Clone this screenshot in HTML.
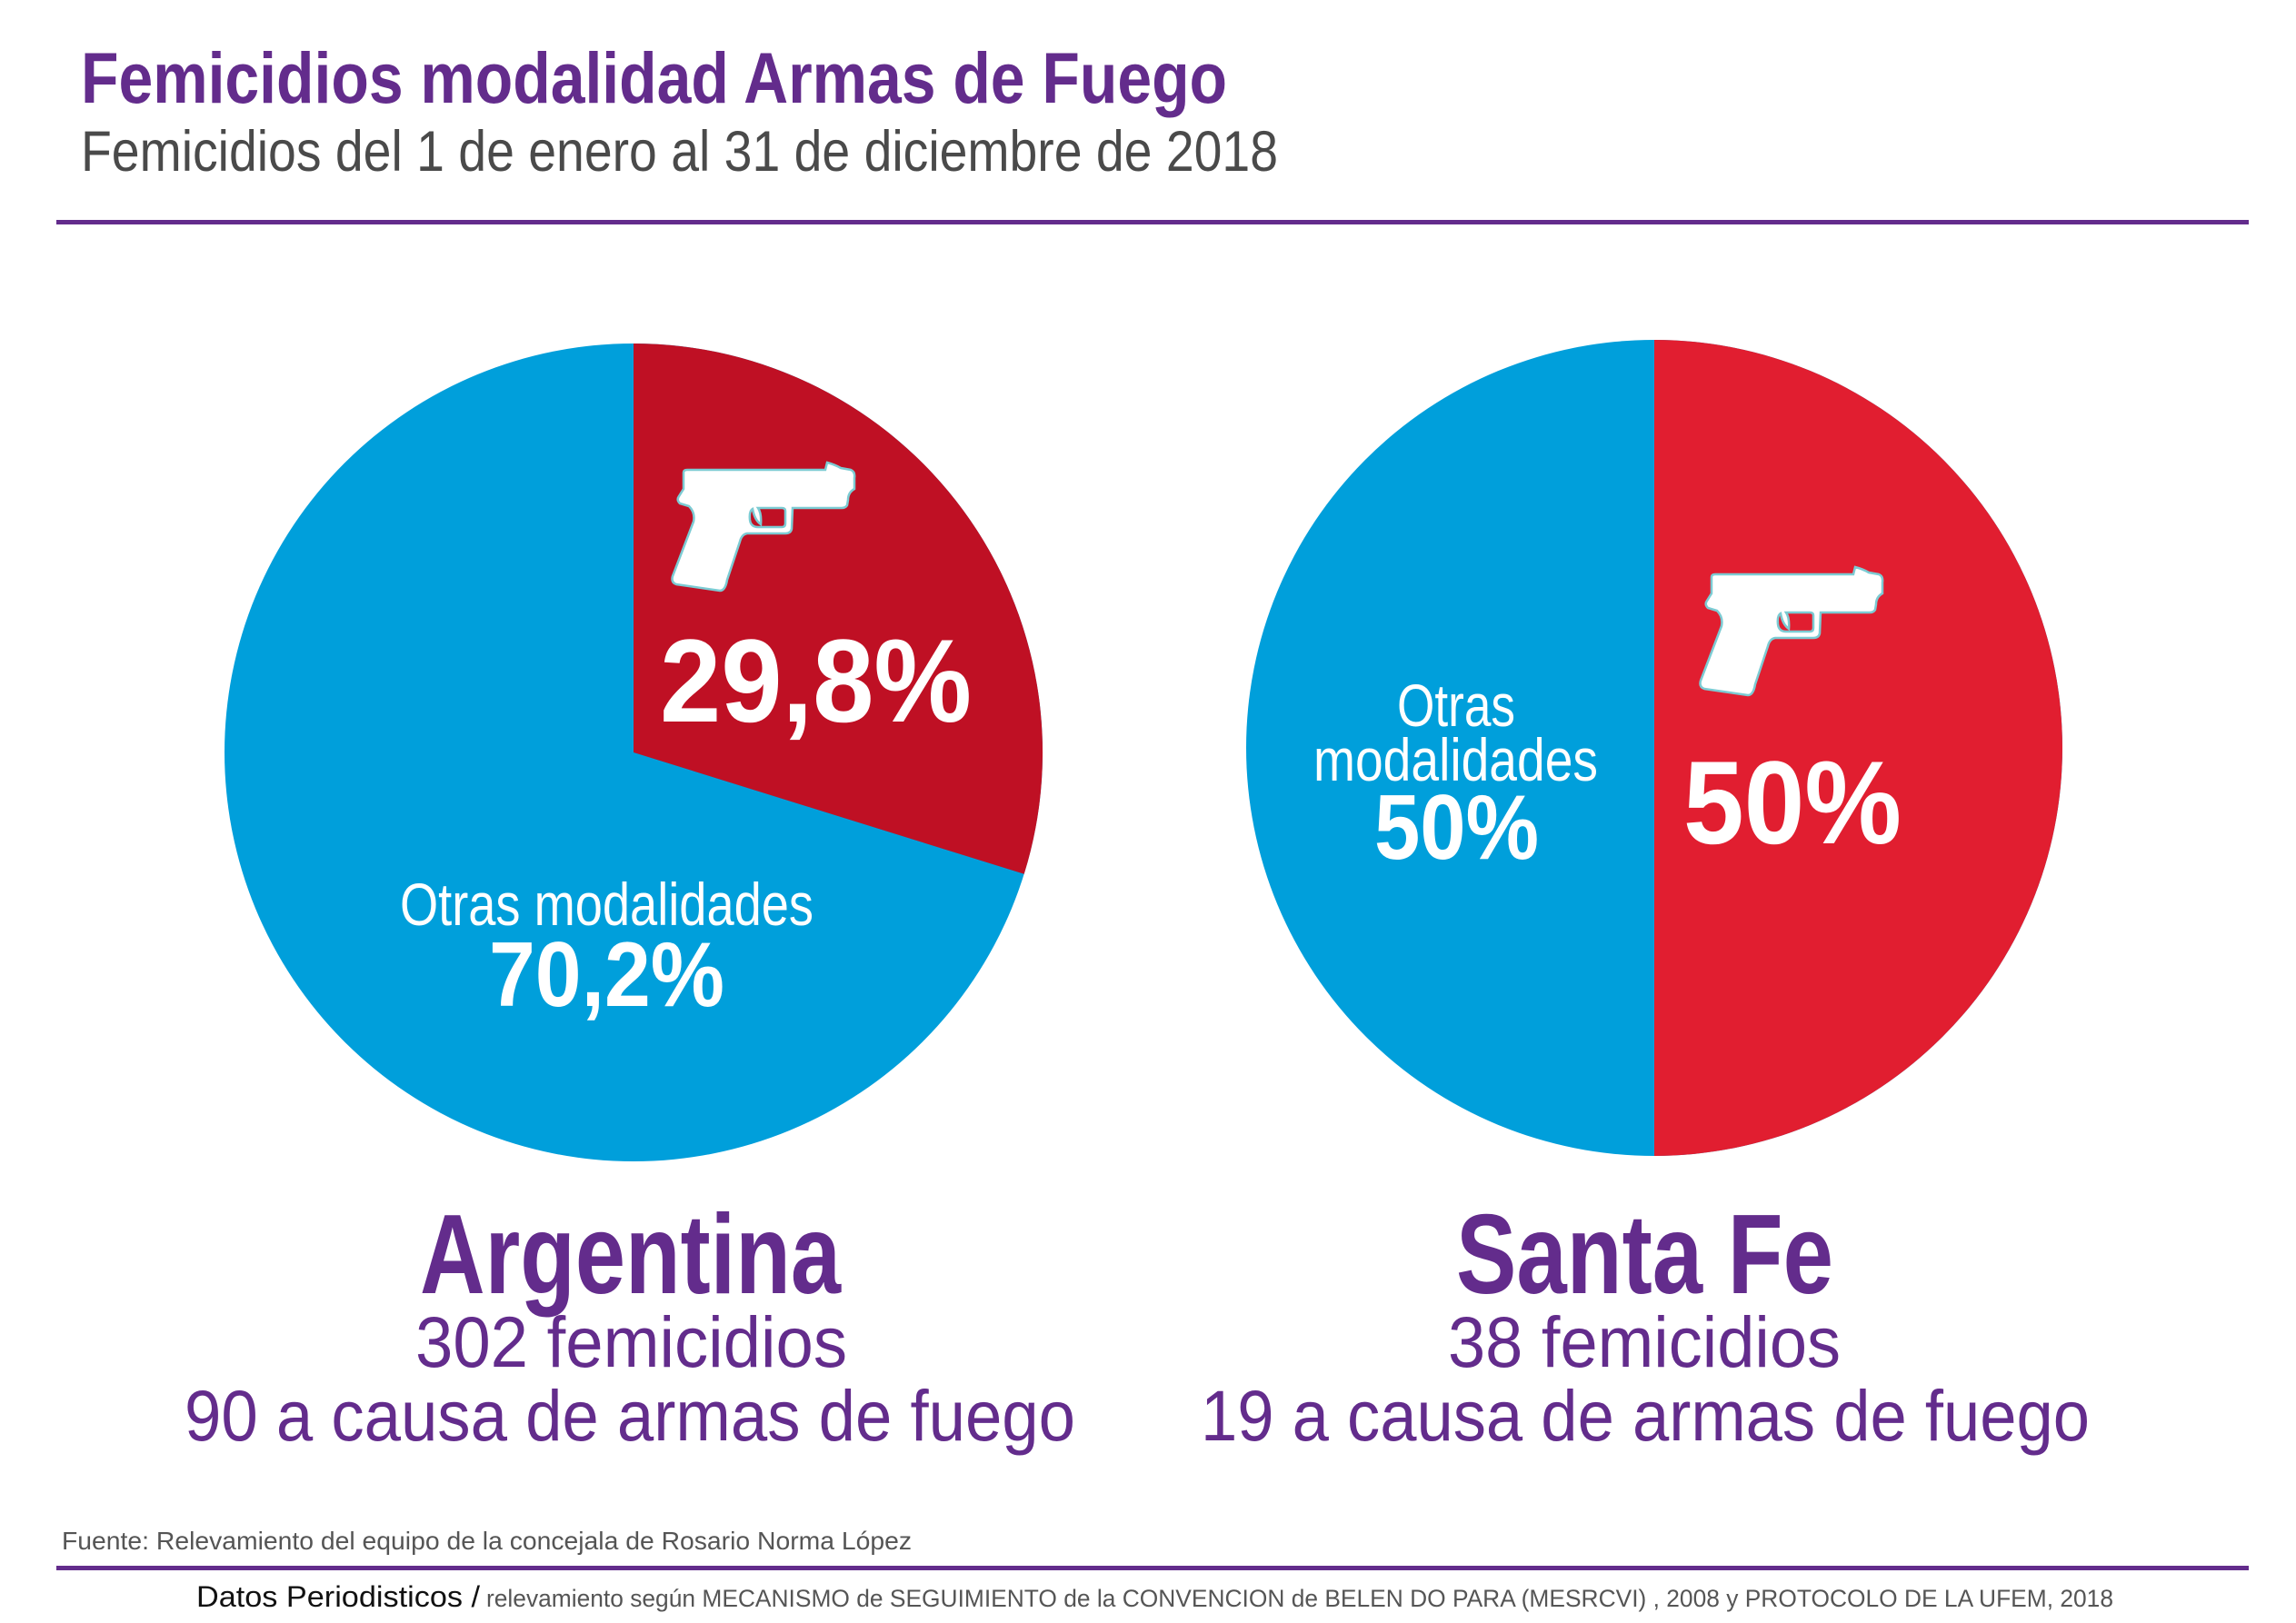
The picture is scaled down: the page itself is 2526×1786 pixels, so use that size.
<!DOCTYPE html>
<html><head><meta charset="utf-8"><style>html,body{margin:0;padding:0;background:#fff}svg{display:block}</style></head><body>
<svg width="2526" height="1786" viewBox="0 0 2526 1786" xmlns="http://www.w3.org/2000/svg" font-family="Liberation Sans, Arial, sans-serif">
<rect width="2526" height="1786" fill="#fff"/>
<text x="89" y="113" font-size="79" font-weight="bold" fill="#632c8c" textLength="1261" lengthAdjust="spacingAndGlyphs">Femicidios modalidad Armas de Fuego</text>
<text x="89" y="188" font-size="63" fill="#4a4a4a" textLength="1317" lengthAdjust="spacingAndGlyphs">Femicidios  del 1 de enero al 31 de diciembre de 2018</text>
<rect x="62" y="242" width="2412" height="5" fill="#632c8c"/>

<!-- Pie 1 -->
<circle cx="697" cy="828" r="450" fill="#009fdb"/>
<path d="M697,828 L697,378 A450,450 0 0 1 1126.7,961.8 Z" fill="#bf1024"/>
<!-- Pie 2 -->
<circle cx="1820" cy="823" r="449" fill="#009fdb"/>
<path d="M1820,374 A449,449 0 0 1 1820,1272 Z" fill="#e11e30"/>

<defs>
<path id="gun" fill="#fff" stroke="#7ccbd3" stroke-width="2.5" fill-rule="evenodd" d="M52,40 Q52,37 56,37 L208,37 L210,29 Q218,31 225,35 L236,37 Q241,39 240,46 L240,58 Q233,62 233,70 L232,76 Q230,79 226,79 L172,79 L171,102 Q170,107 164,107 L122,107 Q116,108 114,116 L100,158 Q98,170 92,170 L44,163 Q38,161 40,154 L63,94 Q65,84 58,77 L48,74 Q44,70 47,66 L52,58 Z M128,80 Q124,82 125,92 Q126,100 134,100 L160,100 Q164,100 164,96 L164,82 Q164,79 160,79 L134,79 Q138,85 137,97 Q130,92 128,80 Z"/>
</defs>
<use href="#gun" transform="translate(700,480)"/>
<use href="#gun" transform="translate(1831,595)"/>

<g fill="#fff" font-weight="bold">
<text x="726" y="794" font-size="130" textLength="343" lengthAdjust="spacingAndGlyphs">29,8%</text>
<text x="538" y="1107" font-size="101" textLength="259" lengthAdjust="spacingAndGlyphs">70,2%</text>
<text x="1512" y="945" font-size="101" textLength="181" lengthAdjust="spacingAndGlyphs">50%</text>
<text x="1852" y="928" font-size="130" textLength="240" lengthAdjust="spacingAndGlyphs">50%</text>
</g>
<g fill="#fff">
<text x="440" y="1018" font-size="66" textLength="455" lengthAdjust="spacingAndGlyphs">Otras modalidades</text>
<text x="1537" y="799" font-size="66" textLength="130" lengthAdjust="spacingAndGlyphs">Otras</text>
<text x="1445" y="859" font-size="66" textLength="313" lengthAdjust="spacingAndGlyphs">modalidades</text>
</g>

<g fill="#632c8c">
<text x="462" y="1423" font-size="124" font-weight="bold" textLength="463" lengthAdjust="spacingAndGlyphs">Argentina</text>
<text x="457" y="1504" font-size="79" textLength="475" lengthAdjust="spacingAndGlyphs">302 femicidios</text>
<text x="203" y="1585" font-size="79" textLength="980" lengthAdjust="spacingAndGlyphs">90 a causa de armas de fuego</text>
<text x="1602" y="1423" font-size="124" font-weight="bold" textLength="415" lengthAdjust="spacingAndGlyphs">Santa Fe</text>
<text x="1593" y="1504" font-size="79" textLength="432" lengthAdjust="spacingAndGlyphs">38 femicidios</text>
<text x="1321" y="1585" font-size="79" textLength="978" lengthAdjust="spacingAndGlyphs">19 a causa de armas de fuego</text>
</g>

<text x="68" y="1705" font-size="28" fill="#555" textLength="935" lengthAdjust="spacingAndGlyphs">Fuente: Relevamiento del equipo de la concejala de Rosario Norma López</text>
<rect x="62" y="1723" width="2412" height="5" fill="#632c8c"/>
<text x="216" y="1768" font-size="32" fill="#111" textLength="312" lengthAdjust="spacingAndGlyphs">Datos Periodisticos /</text>
<text x="535" y="1768" font-size="27" fill="#555" textLength="1790" lengthAdjust="spacingAndGlyphs">relevamiento según MECANISMO de SEGUIMIENTO de la CONVENCION de BELEN DO PARA (MESRCVI) , 2008 y PROTOCOLO DE LA UFEM, 2018</text>
</svg>
</body></html>
